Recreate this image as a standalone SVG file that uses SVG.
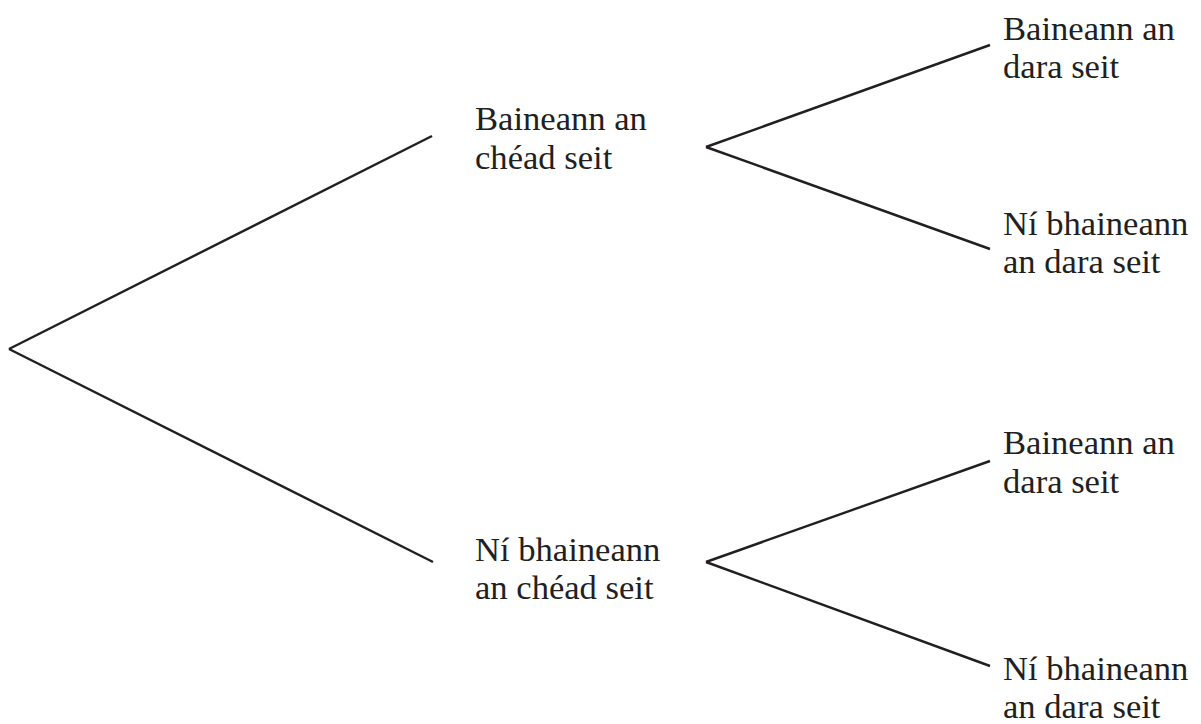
<svg xmlns="http://www.w3.org/2000/svg" width="1201" height="724" viewBox="0 0 1201 724">
<style>
.t{font-family:"Liberation Serif","Times New Roman",serif;font-size:34.6px;fill:#231f20}
.c line{stroke:#231f20;stroke-width:2.4;stroke-linecap:butt}
</style>
<rect width="1201" height="724" fill="#fff"/>
<g class="c" id="connectors">
<line x1="9" y1="349" x2="432" y2="136"/>
<line x1="9" y1="349" x2="433" y2="562"/>
<line x1="706" y1="147" x2="990" y2="45"/>
<line x1="706" y1="147" x2="990" y2="249"/>
<line x1="706" y1="562" x2="990" y2="461"/>
<line x1="706" y1="562" x2="990" y2="666"/>
</g>
<g id="n1"><text class="t" x="475" y="130">Baineann an</text><text class="t" x="475" y="169">chéad seit</text></g>
<g id="n2"><text class="t" x="475" y="561">Ní bhaineann</text><text class="t" x="475" y="599">an chéad seit</text></g>
<g id="n3"><text class="t" x="1003" y="40">Baineann an</text><text class="t" x="1003" y="78">dara seit</text></g>
<g id="n4"><text class="t" x="1003" y="235">Ní bhaineann</text><text class="t" x="1003" y="273">an dara seit</text></g>
<g id="n5"><text class="t" x="1003" y="454">Baineann an</text><text class="t" x="1003" y="493">dara seit</text></g>
<g id="n6"><text class="t" x="1003" y="680">Ní bhaineann</text><text class="t" x="1003" y="718">an dara seit</text></g>
</svg>
